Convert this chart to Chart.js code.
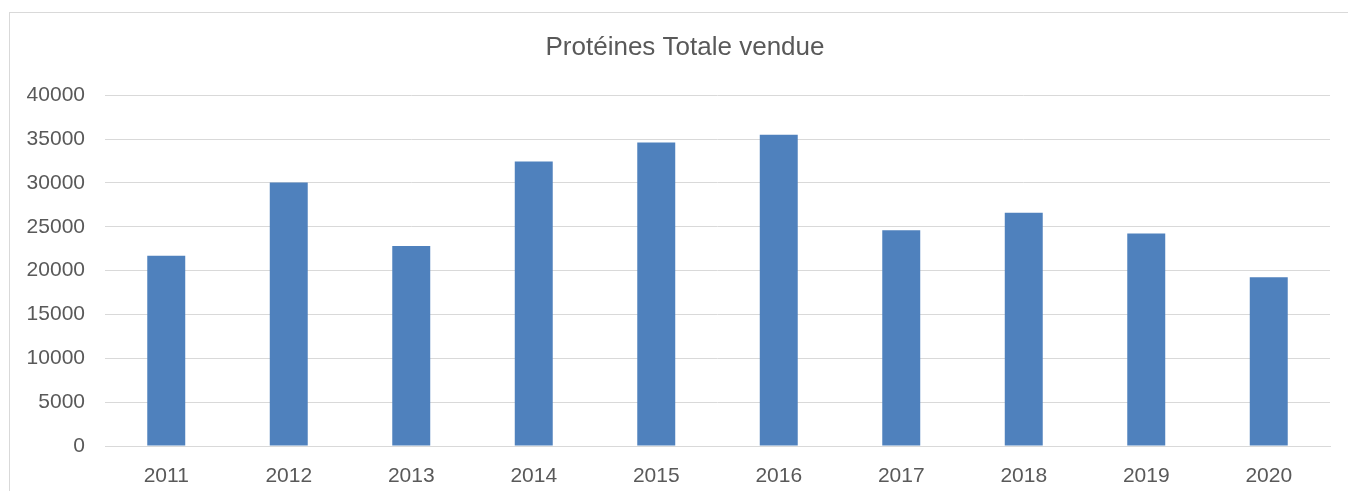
<!DOCTYPE html>
<html>
<head>
<meta charset="utf-8">
<script src="https://cdn.jsdelivr.net/npm/chart.js@4/dist/chart.umd.min.js"></script>
<style>
  body { margin: 0; background: #fff; overflow: hidden; }
  #wrap { position: relative; width: 1348px; height: 491px; }
  #frame { position: absolute; left: 9px; top: 12px; width: 1400px; height: 600px; border: 1px solid #d9d9d9; }
  #myChart { position: absolute; left: 0; top: 0; }
</style>
</head>
<body>
<div id="wrap">
  <div id="frame"></div>
  <canvas id="myChart" width="1348" height="491"></canvas>
</div>
<script type="text/javascript">
// categories and values
var years = ["2011", "2012", "2013", "2014", "2015", "2016", "2017", "2018", "2019", "2020"]
var proteines = [21700, 30050, 22800, 32450, 34600, 35500, 24600, 26600, 24230, 19230]
var yTicks = [0, 5000, 10000, 15000, 20000, 25000, 30000, 35000, 40000]

var textColor = '#595959';
var gridColor = '#d9d9d9';
var fontFamily = "'Liberation Sans', Arial, sans-serif";

// the title in the original sits a bit right of the canvas centre
var shiftTitle = {
  id: 'shiftTitle',
  afterLayout: function (chart) {
    if (chart.titleBlock) chart.titleBlock.left = 40;
  }
};

var config = {
  type: 'bar',
  data: {
    labels: years,
    datasets: [{
      label: 'Protéines Totale vendue',
      data: proteines,
      backgroundColor: '#4f81bd',
      borderWidth: 0,
      barPercentage: 0.31,
      categoryPercentage: 1
    }]
  },
  options: {
    responsive: false,
    animation: false,
    layout: {
      padding: { left: 0, right: 18, top: 0, bottom: 0 }
    },
    plugins: {
      legend: { display: false },
      tooltip: { enabled: false },
      title: {
        display: true,
        text: 'Protéines Totale vendue',
        color: textColor,
        font: { family: fontFamily, size: 26, weight: 'normal' },
        padding: { top: 32, bottom: 32 }
      }
    },
    scales: {
      x: {
        grid: { display: false },
        border: { display: true, color: gridColor, width: 1 },
        ticks: {
          color: textColor,
          font: { family: fontFamily, size: 21 },
          padding: 10,
          maxRotation: 0
        },
        afterFit: function (scale) { scale.height = 45; }
      },
      y: {
        min: 0,
        max: 40000,
        afterBuildTicks: function (scale) {
          scale.ticks = yTicks.map(function (v) { return { value: v }; });
        },
        grid: { color: gridColor, lineWidth: 1, drawTicks: false },
        border: { display: false },
        ticks: {
          color: textColor,
          font: { family: fontFamily, size: 21 },
          padding: 20,
          callback: function (v) { return String(v); }
        },
        afterFit: function (scale) { scale.width = 105; }
      }
    }
  },
  plugins: [shiftTitle]
};

var myChart = new Chart(document.getElementById('myChart'), config);
</script>
</body>
</html>
